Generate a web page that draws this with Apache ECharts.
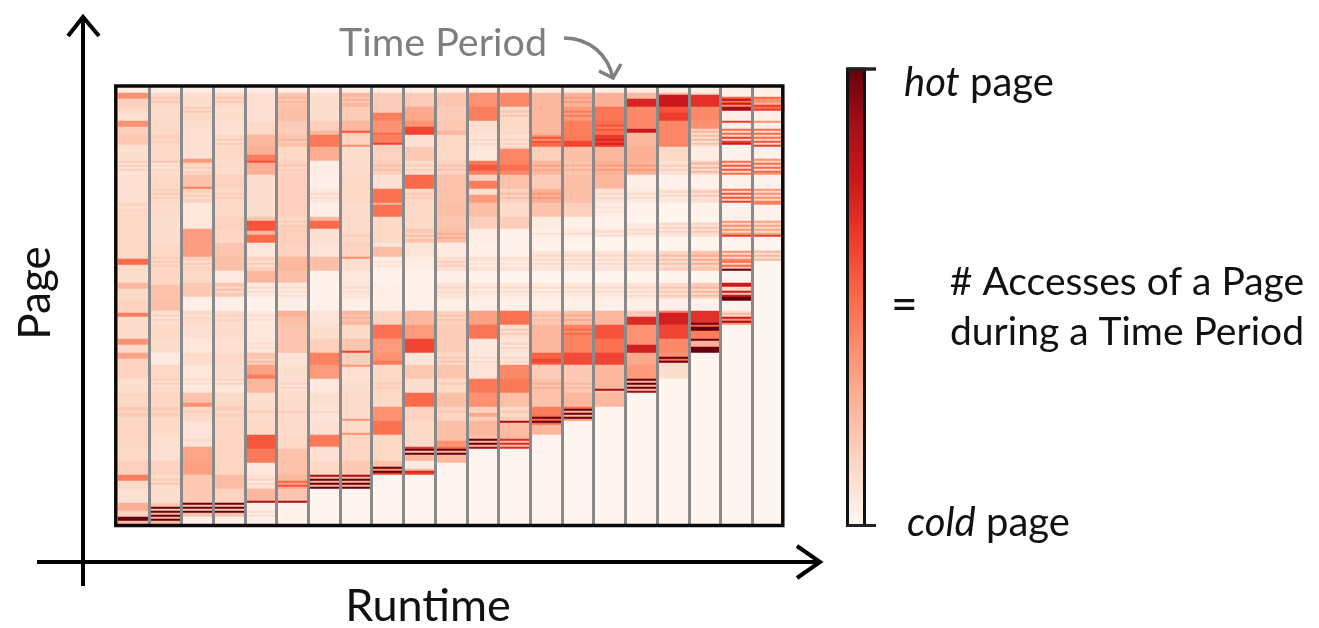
<!DOCTYPE html>
<html><head><meta charset="utf-8">
<style>html,body{margin:0;padding:0;background:#fff}#c{width:1319px;height:628px}</style>
<script src="https://cdn.jsdelivr.net/npm/echarts@6/dist/echarts.min.js"></script>
</head><body><div id="c"></div>
<script>
// Each period: flat list of [last page row (exclusive), access level 0..8] bands.
const period01=[3,.3,6,3,11,1.2,13,1,17,.7,20,3,24,1.3,29,1.5,37,.8,38,1.3,39,.6,40,1.3,41,.6,42,1.3,44,.6,58,.7,60,1.1,61,.7,62,1.1,65,1,71,1,78,1,86,1,89,4,92,1,98,.8,101,2,107,1,113,1.2,115,3.5,126,.9,129,3,133,1,136,2.5,146,1.2,153,.8,155,1.1,160,1,162,1.5,163,1,165,1.5,167,1,180,1.1,187,1,194,1.3,197,3.5,201,1,208,.7,212,2.2,215,1.2,217,8,219,2];
const period02=[3,.3,5,1,6,1.5,7,1,8,1.5,10,1,17,.9,24,1,26,1.3,27,1,28,1.3,30,1,37,1,38,1.6,39,.6,40,1.1,41,.6,42,1.1,44,.8,51,1,52,1.3,53,1,54,1.5,55,1,56,1.3,58,1,65,.9,78,.8,85,1,86,1.4,87,1,88,1.4,89,1,90,1.4,92,1,99,1.1,107,1.7,112,1.8,114,.8,115,1.3,116,.6,117,1.2,119,.8,126,1,133,.9,139,.4,146,1,147,1.4,148,.7,149,1.4,150,.7,153,1,160,1.1,162,1.4,163,1,165,1.4,167,1,174,1,180,.8,187,.7,194,1.2,196,.9,197,1.5,198,.9,199,1.5,201,.9,208,.8,210,1.5,211,8,212,1.5,213,8,214,2,215,8,216,2,217,8,219,2];
const period03=[3,.3,10,.8,11,1.4,12,.9,13,1.5,14,.9,17,1,24,.8,30,.7,36,.7,38,2.8,39,1.2,40,.8,41,1.4,42,.8,44,1.2,50,1.7,51,3.5,53,1.2,54,.8,55,1.4,56,.8,58,1.2,71,.5,78,2.7,85,2.7,87,1.3,88,.9,89,1.4,90,.9,92,1.2,98,1,105,1.5,112,.2,114,1,115,.6,116,1.1,119,.9,126,.7,133,.5,139,.9,146,.5,147,.9,148,.4,149,.9,150,.4,153,.5,158,1.7,160,3,162,1,163,1.4,165,1,167,1,174,.6,176,.6,177,1,180,.6,187,2.5,194,2.6,208,1.5,209,8,210,1.5,211,8,212,1.5,213,8,215,1.6,219,.2];
const period04=[3,.3,5,1,6,1.6,7,1,8,1.5,10,1,17,.8,24,.7,26,1,27,1.4,28,.8,29,1.4,30,.9,37,1,44,.9,51,1.2,53,1,54,1.4,55,1,56,1.4,58,1,65,1,71,1.2,78,1.1,85,1.6,92,1.8,98,.4,100,1.6,101,1,102,1.7,103,1,105,1.5,112,.2,114,.9,115,1.3,116,.7,117,1.2,119,.9,126,.9,133,.7,139,1,146,.8,147,1.2,148,.5,149,1.2,150,.5,153,.5,160,1,162,1.4,163,.9,165,1.3,167,1,174,1.1,187,1.1,194,1.1,201,1.9,208,1.2,209,8,210,1.5,211,8,212,1.5,213,8,215,1.6,219,.2];
const period05=[3,.3,17,.7,24,1,30,2,34,2.2,37,3.5,38,4.5,44,2.2,65,.8,67,1.6,72,4.5,74,2,78,4,85,.5,87,1.2,88,.7,89,1.5,90,.8,92,1.2,98,2,100,.4,101,1,102,.3,103,.9,105,.4,112,.1,114,.4,115,.9,116,.3,117,.8,119,.4,126,.5,128,.5,129,.9,130,.4,131,.9,133,.5,136,1.6,137,1.1,138,1.9,139,1.2,144,2.6,146,3.5,153,2,160,.8,162,.9,163,1.4,165,.9,167,.9,174,1,181,4.4,188,3.6,194,.5,196,.7,197,1.2,198,.5,199,1.1,201,.7,207,2,208,7,212,.2,213,.9,214,.2,215,.8,219,.2];
const period06=[3,.3,5,1.6,6,2.1,7,1.4,8,2,10,1.6,17,1.8,24,1.4,26,1.6,27,2.1,28,1.4,30,1.7,37,1,39,1.2,40,1.6,41,1,42,1.5,44,1.2,65,1.3,67,1,68,1.4,69,1,70,1.4,78,1.3,85,1.2,92,2,98,1.8,100,.5,101,.9,102,.3,103,.8,104,.3,105,.8,106,.3,112,.2,115,2.2,119,1.8,133,1.6,139,.6,146,.8,148,.7,149,1.2,150,.6,151,1.2,153,.7,160,.9,162,.9,163,1.3,165,.9,167,.9,174,.9,181,1,194,1.7,197,2,198,4,199,2.6,200,4.5,201,2.5,207,1.6,208,7,219,.1];
const period07=[3,.2,10,.8,17,.8,22,1.3,24,2,30,3.6,37,2.3,44,.3,51,.2,53,.5,54,1,55,.4,56,.9,58,.5,65,.2,67,2,71,4,78,.7,85,.6,92,1.8,105,.1,112,.1,119,.6,126,.8,133,1.3,139,3.4,146,2.8,153,.5,160,.8,162,.6,163,1,165,.6,167,.6,174,.7,180,3.6,187,.7,194,1,195,7,196,2,197,8,198,2,199,8,200,2,201,8,219,0];
const period08=[3,.3,5,2,6,1.5,7,2.2,8,1.5,10,2,17,1.4,21,2,22,2.2,23,4.5,24,1.6,29,1.2,30,3,37,.8,44,.9,58,1,65,.9,72,.9,74,1,75,1.4,76,1,78,1,85,1.2,86,3,92,.8,98,.5,100,.5,101,1,102,.4,103,.9,106,.5,112,.2,114,2,115,1.5,116,2.2,117,1.5,119,2,126,1,132,1.6,133,5,139,1.3,140,3,146,.7,153,.8,160,.9,166,.9,167,3,173,.9,174,3,187,1.1,194,1.5,195,7,196,2,197,8,198,2,199,8,200,2,201,8,219,0];
const period09=[3,.3,13,1.4,17,3.5,23,3,24,4,28,3.5,29,5,37,1.2,39,1.3,40,1.8,41,1.2,42,1.8,44,1.3,51,.7,58,3.8,59,2,65,3.8,78,1,80,.6,85,1.9,87,.2,88,.7,89,.2,90,.7,92,.2,98,.1,112,.2,119,1.2,126,3.8,133,2.8,137,3,139,3.6,146,1,148,1,149,1.4,150,1,151,1.4,153,1,160,1,167,3,174,3.8,187,1,190,1.7,191,8,192,3,193,8,194,5,219,0];
const period10=[3,.3,10,1.4,17,2.4,20,3,24,4.8,30,.7,37,1.5,39,.9,40,1.4,41,.8,42,1.3,44,.9,51,4,53,1,54,1.5,55,1,56,1.4,58,1,71,1,73,1.5,74,1,75,1.9,76,1,78,1.6,85,.6,92,.3,98,.1,112,.15,119,2,126,2.8,133,4.8,139,.6,146,1.5,153,.8,160,4,167,1.2,174,1,180,1,181,5,182,8,183,1.5,184,8,187,2,191,.4,192,2,193,5.5,194,5,219,0];
const period11=[3,.3,10,1.6,17,1.4,22,1.5,24,2,37,1,39,1.2,40,1.7,41,1.1,42,1.7,44,1.2,58,1.7,65,1.8,71,1.6,73,1.8,74,2.3,75,1.7,76,2.3,78,1.8,85,.4,87,.8,88,1.4,89,.7,90,1.3,92,.8,98,.2,100,.6,101,1.1,102,.5,103,1,106,.6,112,.2,114,1.2,115,1.7,116,1.1,117,1.7,119,1.2,133,1.4,135,1,136,1.5,137,1,138,1.5,139,1,146,1.6,148,1,149,1.5,150,1,153,1,160,1.8,162,1.2,163,1.7,165,1.1,167,1.2,177,1.8,180,3,181,4,182,8,183,2,184,8,188,2,219,0];
const period12=[3,.3,10,3,17,3.5,24,.8,26,.6,27,1.1,28,.5,29,1,30,.6,37,.5,39,3.6,42,4.4,44,3.4,47,1.2,51,3.5,54,.8,58,2.8,65,1.8,71,1.3,78,.3,85,.2,87,.8,88,.3,89,.7,90,.2,92,.7,98,.1,100,.5,101,.9,102,.2,103,.7,106,.4,112,.2,119,2.6,126,3.7,133,.5,135,.5,136,1,137,.4,138,1,139,.5,146,.6,153,3.6,160,3,162,1.3,163,1,165,2.4,167,1.3,174,2,176,1.8,177,8,178,2,179,8,180,2,181,7,219,0];
const period13=[3,.3,10,3.2,12,1,13,1.6,14,1,15,1.6,17,1,24,1,26,.7,27,1.3,28,.6,29,1.2,30,.7,31,1.2,37,3.3,39,3.4,42,3.8,44,3.3,51,1.7,53,1.2,54,1.8,55,1.1,56,1.7,58,1.2,65,.9,71,1.4,85,.1,87,.7,88,.2,89,.7,90,.2,92,.7,98,.05,100,.5,101,1,102,.3,103,.9,106,.4,112,.2,119,3.8,121,.8,122,1.5,123,.6,124,1.4,126,.8,128,.6,129,1.2,130,.5,131,1.1,133,.6,135,.5,136,1.1,137,.4,138,1,139,.5,146,3.2,153,3.6,160,1.8,162,1,163,1.6,165,1,167,1.4,168,7,174,1.9,176,2,177,5.5,178,1.8,179,5.5,180,1.8,181,5.5,219,0];
const period14=[3,.3,24,2,25,3,26,4.5,27,3,28,4.5,30,4,37,1.3,39,2,40,2.6,41,1.7,42,2.5,44,2,51,1.4,53,2.2,54,2.8,55,2.1,56,2.8,58,2.3,65,1.7,71,.4,73,.2,74,.7,75,.2,78,.2,82,.1,84,.6,85,1.1,86,.4,87,1,88,.4,89,1,90,.4,92,.6,98,.05,100,.4,101,.9,102,.2,103,.8,106,.4,112,.2,114,1.5,115,2,116,1.3,117,1.9,119,1.5,126,2,133,2,136,4.2,138,4.8,139,4.2,146,1.4,148,1.7,149,2.2,150,1.5,151,2.2,153,1.7,160,1.7,164,3.5,165,3.8,166,8,167,4,168,8,169,4,174,2,219,0];
const period15=[3,.3,5,2.2,6,2.8,7,2,8,2.8,10,2.2,12,2.8,13,3.6,14,2.6,15,3.6,17,2.8,24,3.5,27,3.6,30,4.8,37,1.8,39,1.6,40,2.2,41,1.4,42,2.2,44,1.6,58,1.8,65,1.3,71,.15,73,.4,74,.9,75,.3,78,.1,82,.05,84,.6,85,1.1,86,.4,87,1,88,.4,89,1,90,.4,92,.6,98,.05,100,.5,101,1,102,.3,103,.9,106,.4,112,.2,114,1.8,115,2.4,116,1.6,117,2.4,119,1.8,121,3.4,122,4,123,3,124,4,126,3.4,133,3.4,139,4.7,146,1.5,148,1.5,149,2,150,1.3,151,2,153,1.5,160,2,161,4,162,8,163,2,164,8,165,2,166,8,167,3,219,0];
const period16=[3,.3,10,2.2,17,3.7,19,3.9,20,4.5,21,3.6,22,4.4,24,3.9,26,5,27,5.6,28,4.8,29,5.6,30,5,37,2,39,2.2,40,2.8,41,2,42,2.8,44,2.2,51,2,53,.6,54,1.1,55,.5,56,1,58,.6,60,.3,61,.7,62,.2,63,.6,65,.3,71,.1,72,.5,73,1,74,.4,75,.9,82,.05,84,.6,85,1.1,86,.4,87,1,88,.4,89,1,90,.4,92,.6,98,.05,100,.5,101,1,102,.3,103,.9,106,.4,112,.2,119,2,126,4.5,133,3.8,139,4.8,146,2,151,2,152,7,153,1.5,160,2,219,0];
const period17=[3,.3,6,2,10,5.6,21,3.2,23,6,30,2,37,2.2,39,2.2,40,2.8,41,2,42,2.8,44,2.2,51,.2,53,.4,54,1,55,.3,56,.9,58,.4,65,.1,68,.05,71,.4,72,1,73,.4,74,1,75,.4,82,.05,84,.7,85,1.3,86,.5,87,1.2,88,.5,89,1.2,90,.5,92,.7,98,.05,100,.6,101,1.1,102,.4,103,1,104,.4,105,1,106,.4,112,.2,115,1.5,119,5.5,129,3,133,5.8,139,2.4,146,2.8,147,8,148,2,149,8,150,2,151,8,152,2,153,7,219,0];
const period18=[3,.3,4,2,10,6,13,4.5,17,5,30,3.3,37,1,39,.7,40,1.4,41,.6,42,1.3,44,.7,51,.1,52,.5,53,1.1,54,.4,55,1.1,56,.4,58,.5,65,.05,68,.05,69,1.1,70,.5,71,1.2,72,.5,73,1.2,75,.6,82,.05,84,1.1,85,1.9,86,.8,87,1.8,88,.7,89,1.8,90,.7,92,1.2,98,.05,100,.9,101,1.6,102,.7,103,1.5,104,.7,105,1.5,106,.8,112,.2,113,3.5,119,5.8,126,4.8,133,3.2,135,3,136,8,137,4,138,8,140,1,146,.8,219,0];
const period19=[3,.3,4,1,10,5.3,17,3.2,21,3,22,1.2,23,2,24,1,25,1.8,26,.8,27,2,28,.7,29,1.8,30,.8,37,.3,38,1.2,39,2,40,.8,41,2,42,.8,43,2,44,1,51,.1,52,.8,53,1.6,54,.6,55,1.6,56,.6,58,.8,65,.1,68,.05,69,1.2,70,.6,71,1.6,72,.6,73,1.6,75,.8,82,.05,84,1.6,85,2.4,86,1.1,87,2.4,88,1.1,89,2.3,90,1.1,92,1.6,98,.05,100,1.4,101,2,102,.9,103,2,104,.9,105,2,106,1,112,.1,118,5.3,119,8,120,4,122,8,126,3.5,127,8,130,2.2,133,8,219,0];
const period20=[3,.3,5,.2,6,4,7,6.5,8,4,9,6,10,3,12,7,17,.2,18,5,21,.2,22,4,23,1,24,4,25,1,26,5,27,1,28,5,29,6,37,.1,38,4,39,1,40,4.5,41,1,42,4.5,43,1,44,4,51,.1,52,4,53,1,54,4.5,55,1,56,4.5,57,1,58,5,67,.1,68,3,69,1,70,3.2,71,1,72,3,73,1,74,3,75,5,82,.05,83,3,84,1,85,3.2,86,1,87,3.2,88,4,89,1,90,4,91,1.5,92,8,98,.05,100,6,102,1,103,6,104,1.5,105,6,106,8,107,8,112,.1,113,1,114,2,115,1,116,6,117,3,118,7,119,3,219,0];
const period21=[3,.3,5,.1,6,4,8,3,9,2,10,5,11,4,12,5,17,.2,18,3,21,.2,22,4,23,1,24,4,25,1,26,4,27,1,28,4.5,29,1,30,5,36,.2,37,3,38,1,39,4,40,1,41,4,42,1,43,4,44,3,51,.1,52,3,53,1,54,3,55,1,56,3,57,1,59,3.5,67,.1,68,2.5,69,1,70,2.5,71,1,72,2.5,73,1,74,2.5,75,5,82,.05,83,2,84,.8,85,2,86,.8,87,2,219,0];

const periods=[period01,period02,period03,period04,period05,period06,period07,period08,period09,period10,period11,period12,period13,period14,period15,period16,period17,period18,period19,period20,period21];
const pageRowCount=219;
const coldToHot=['#fff5f0','#fdd9c8','#fcb89f','#fc9272','#fb6a4a','#ef3b2c','#cb181d','#a50f15','#67000d'];

const cells=[];
periods.forEach((bands,c)=>{
  let b=0;
  for(let r=0;r<pageRowCount;r++){
    while(b<bands.length-2&&r>=bands[b])b+=2;
    cells.push([c,r,bands[b+1]]);
  }
});
const font='Lato';
const line=(pts,w,color)=>({type:'polyline',z:100,shape:{points:pts},style:{stroke:color,lineWidth:w,fill:null,lineJoin:'miter'}});
const txt=(x,y,text,size,extra)=>({type:'text',z:100,x,y,style:Object.assign({text,fontFamily:font,fontSize:size,fill:'#111',textAlign:'left',textVerticalAlign:'middle'},extra||{})});
const chart=echarts.init(document.getElementById('c'),null,{renderer:'canvas'});
chart.setOption({
  animation:false,backgroundColor:'#fff',
  grid:{left:118,top:87,width:666,height:438,show:false},
  xAxis:{type:'category',data:periods.map((_,i)=>i+1),z:10,axisLine:{show:false},axisTick:{show:false},axisLabel:{show:false},
    splitLine:{show:true,interval:0,showMinLine:false,showMaxLine:false,lineStyle:{color:'#8a8a8a',width:3}},splitArea:{show:false}},
  yAxis:{type:'category',inverse:true,data:Array.from({length:pageRowCount},(_,i)=>i),axisLine:{show:false},axisTick:{show:false},axisLabel:{show:false},splitLine:{show:false},splitArea:{show:false}},
  visualMap:{type:'continuous',min:0,max:8,show:true,calculable:false,realtime:false,left:849,top:69,itemWidth:15,itemHeight:456,padding:0,text:null,inRange:{color:coldToHot},seriesIndex:0,hoverLink:false},
  series:[{type:'heatmap',data:cells,progressive:0,itemStyle:{borderWidth:0},emphasis:{disabled:true}}],
  graphic:{elements:[
    {type:'rect',z:100,shape:{x:115.8,y:86,width:667,height:439.5},style:{fill:null,stroke:'#0a0a0a',lineWidth:3.5}},
    {type:'rect',z:100,shape:{x:847.5,y:69,width:17,height:456.5},style:{fill:null,stroke:'#111',lineWidth:3}},
    line([[847,69],[876,69]],3.5,'#222'),
    line([[847,525.5],[876,525.5]],3,'#222'),
    line([[83,586],[83,18]],4,'#000'),
    line([[68,36],[83,17],[99,36]],4,'#000'),
    line([[37,562],[818,562]],4,'#000'),
    line([[797,546],[820,562],[797,578]],4,'#000'),
    {type:'bezierCurve',z:100,shape:{x1:564,y1:38,x2:613,y2:78,cpx1:590,cpy1:38,cpx2:608,cpy2:55},style:{stroke:'#7f7f7f',lineWidth:3.5,fill:null}},
    line([[599,71],[613,78],[621,64]],3.5,'#7f7f7f'),
    txt(339,43,'Time Period',39.5,{fill:'#7f7f7f'}),
    txt(904,83,'{i|hot} page',40,{rich:{i:{fontStyle:'italic',fontFamily:font,fontSize:40,fill:'#111'}}}),
    txt(907,523,'{i|cold} page',40,{rich:{i:{fontStyle:'italic',fontFamily:font,fontSize:40,fill:'#111'}}}),
    txt(891,305,'=',46),
    txt(1127,282,'# Accesses of a Page',39,{textAlign:'center'}),
    txt(1127,332,'during a Time Period',39,{textAlign:'center'}),
    txt(428,606,'Runtime',45,{textAlign:'center'}),
    {type:'text',z:100,x:36,y:293,rotation:Math.PI/2,style:{text:'Page',fontFamily:font,fontSize:44,fill:'#111',textAlign:'center',textVerticalAlign:'middle'}}
  ]}
});
</script></body></html>
